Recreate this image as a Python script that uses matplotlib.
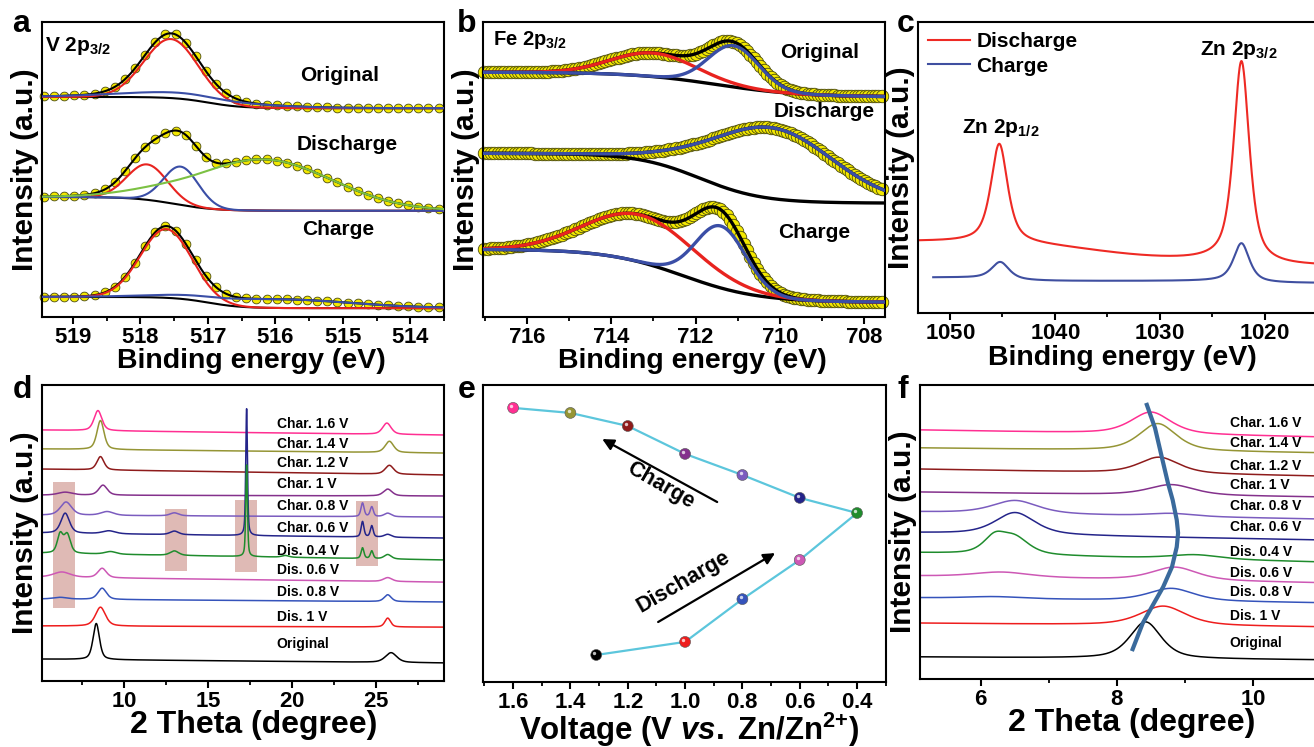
import numpy as np
import matplotlib.pyplot as plt
from matplotlib.ticker import MultipleLocator, FormatStrFormatter
from matplotlib.patches import Rectangle
from matplotlib.transforms import offset_copy

plt.rcParams['font.family'] = ['Liberation Sans', 'DejaVu Sans']
plt.rcParams['font.weight'] = 'bold'
plt.rcParams['axes.labelweight'] = 'bold'
plt.rcParams['mathtext.fontset'] = 'custom'
plt.rcParams['mathtext.rm'] = 'Liberation Sans:bold'
plt.rcParams['mathtext.it'] = 'Liberation Sans:bold:italic'
plt.rcParams['mathtext.bf'] = 'Liberation Sans:bold'
plt.rcParams['axes.linewidth'] = 1.5

# ---- a: V 2p3/2 fit components (centre eV, height a.u., sigma eV) ----
a_states = ['Original', 'Discharge', 'Charge']
a_bg_high = [74.6, 40.7, 6.8]
a_bg_low = [70.8, 36.0, 3.0]
a_bg_mid = [517.0, 517.5, 517.0]
a_bg_width = [0.5, 0.6, 0.5]
a_red = [(517.55, 20.0, 0.40), (517.90, 12.0, 0.30), (517.62, 23.3, 0.38)]
a_blue = [(517.30, 2.0, 1.00), (517.40, 13.0, 0.26), (516.00, 3.0, 1.10)]
a_green = [None, (516.20, 17.4, 1.03), None]
a_label_x = [515.64, 515.68, 515.60]
a_label_y = [82.0, 58.6, 29.8]

# ---- b: Fe 2p3/2 fit components ----
b_states = ['Original', 'Discharge', 'Charge']
b_bg_high = [83.0, 55.5, 23.0]
b_bg_low = [74.6, 38.6, 5.0]
b_bg_mid = [711.5, 711.9, 712.3]
b_bg_width = [2.0, 1.5, 1.8]
b_red = [(713.0, 8.0, 1.0), None, (713.3, 16.0, 1.3)]
b_blue = [(711.1, 14.0, 0.6), (710.2, 24.0, 1.45), (711.4, 21.0, 0.6)]
b_label_x = [708.12, 710.15, 710.05]
b_label_y = [89.8, 69.5, 28.8]

# ---- c: Zn 2p survey (centre eV, height, fwhm) ----
c_states = ['Discharge', 'Charge']
c_x_start = [1053.05, 1051.6]
c_base = [16.2, 10.3]
c_step_low = [(1022.0, 1.5, 1.0), (1022.0, 0.7, 1.0)]
c_step_high = [(1036.0, 7.0, 4.0), (1045.0, 1.2, 1.5)]
c_zn_half = [(1045.3, 34.0, 1.9), (1045.2, 5.9, 2.0)]
c_zn_three_half = [(1022.2, 69.3, 1.8), (1022.2, 13.3, 1.8)]

# ---- d / f: ex-situ XRD traces (centre deg, height, fwhm) ----
xrd_labels = ['Char. 1.6 V', 'Char. 1.4 V', 'Char. 1.2 V', 'Char. 1 V', 'Char. 0.8 V',
              'Char. 0.6 V', 'Dis. 0.4 V', 'Dis. 0.6 V', 'Dis. 0.8 V', 'Dis. 1 V', 'Original']
xrd_colors = ['#ff2f92', '#959535', '#8e1b1b', '#84318c', '#7b5cbf', '#24248a',
              '#1f8c2d', '#cd58b5', '#3553bb', '#ee1d1d', '#000000']

d_base_left = [84.8, 78.4, 71.6, 62.8, 56.0, 50.0, 43.2, 35.1, 27.7, 18.6, 7.4]
d_base_right = [83.1, 77.0, 69.6, 62.5, 55.4, 48.3, 40.9, 33.4, 26.7, 18.2, 6.1]
d_peaks = [
    [(8.45, 6.8, 0.55), (25.65, 3.8, 0.6)],
    [(8.6, 9.8, 0.5), (25.8, 3.8, 0.6)],
    [(8.6, 4.5, 0.5), (25.8, 3.0, 0.6)],
    [(6.5, 1.0, 1.0), (8.75, 3.4, 0.6), (25.7, 2.3, 0.6)],
    [(6.55, 4.5, 0.8), (9.0, 1.3, 0.9), (13.0, 1.0, 0.6), (24.2, 4.6, 0.22),
     (24.75, 3.3, 0.22), (25.7, 1.2, 0.5)],
    [(6.5, 6.8, 0.6), (9.1, 1.0, 0.9), (13.0, 1.2, 0.6), (17.3, 42.9, 0.12),
     (24.2, 5.2, 0.2), (24.75, 3.8, 0.2), (25.7, 1.0, 0.5)],
    [(6.2, 6.3, 0.4), (6.62, 6.3, 0.45), (9.2, 0.9, 0.8), (13.0, 1.5, 0.6),
     (17.3, 31.0, 0.12), (19.6, 0.6, 0.5), (24.2, 3.6, 0.2), (24.75, 2.6, 0.2),
     (25.7, 1.5, 0.5)],
    [(6.3, 1.8, 1.2), (8.7, 3.2, 0.6), (25.7, 1.3, 0.6)],
    [(6.2, 0.6, 1.0), (8.7, 3.8, 0.6), (25.7, 2.3, 0.5)],
    [(8.6, 6.4, 0.7), (25.7, 3.0, 0.4)],
    [(8.35, 12.2, 0.45), (25.9, 3.3, 0.8)],
]
d_label_y = [86.8, 80.1, 73.6, 66.6, 59.1, 51.7, 43.9, 37.5, 30.1, 21.6, 12.5]
d_box_x = [(5.78, 7.1), (12.44, 13.75), (16.6, 17.9), (23.8, 25.1)]
d_box_y = [(24.7, 67.2), (37.2, 58.1), (36.8, 61.1), (38.9, 60.8)]

f_base_left = [84.7, 78.6, 71.4, 63.6, 56.8, 49.7, 42.9, 35.0, 27.6, 19.0, 7.5]
f_base_right = [82.3, 76.9, 69.0, 61.9, 54.4, 47.3, 39.8, 32.7, 25.9, 17.7, 6.5]
f_peaks = [
    [(8.5, 7.5, 0.7)],
    [(8.6, 9.3, 0.65)],
    [(8.62, 5.5, 0.7)],
    [(8.8, 3.6, 0.8)],
    [(6.5, 4.5, 0.8), (8.8, 1.0, 0.8)],
    [(6.5, 7.5, 0.7)],
    [(6.2, 5.5, 0.4), (6.5, 5.5, 0.5), (9.15, 1.5, 0.9)],
    [(6.3, 1.8, 1.0), (8.85, 4.5, 0.8)],
    [(6.2, 0.7, 1.0), (8.8, 4.3, 0.8)],
    [(8.68, 6.6, 0.8)],
    [(8.42, 12.5, 0.55)],
]
f_label_y = [87.1, 80.3, 72.4, 66.0, 58.8, 51.7, 43.2, 36.1, 29.6, 21.4, 12.2]
f_guide_x = [8.22, 8.38, 8.53, 8.68, 8.81, 8.88, 8.90, 8.88, 8.82, 8.75, 8.66, 8.56, 8.43]
f_guide_y = [9.5, 19.0, 25.2, 31.3, 38.1, 44.9, 49.7, 54.1, 60.9, 66.7, 75.5, 85.4, 93.9]

# ---- e: sampling points along the charge/discharge curve ----
e_voltage = [1.31, 1.0, 0.8, 0.6, 0.4, 0.6, 0.8, 1.0, 1.2, 1.4, 1.6]
e_position = [9.1, 13.5, 27.9, 41.1, 56.9, 62.0, 69.7, 76.8, 86.2, 90.6, 92.3]
e_colors = xrd_colors[::-1]
e_charge_arrow = [(0.888, 60.6), (1.289, 81.8)]
e_discharge_arrow = [(1.094, 20.2), (0.686, 43.4)]

RED = '#e8231f'
BLUE = '#3a4ea6'
GREEN = '#7cc143'
YELLOW = '#f3e800'


def gauss(x, c, h, s):
    return h * np.exp(-(x - c) ** 2 / (2 * s ** 2))


def pvoigt(x, c, h, w, eta=0.5):
    u = (x - c) / w
    return h * (eta / (1 + 4 * u ** 2) + (1 - eta) * np.exp(-4 * np.log(2) * u ** 2))


def step(x, c, w):
    return 0.5 * (1 + np.tanh((x - c) / w))


def sig(x, c, w):
    return 1 / (1 + np.exp(-(x - c) / w))


def style(ax, xlim, major, minor, fmt='$%d$'):
    ax.set_xlim(*xlim)
    ax.set_ylim(0, 100)
    ax.set_yticks([])
    ax.xaxis.set_major_locator(MultipleLocator(major))
    ax.xaxis.set_minor_locator(MultipleLocator(minor))
    # mathtext rm is Liberation Sans bold, so this gives bold tick labels
    ax.xaxis.set_major_formatter(FormatStrFormatter(fmt))
    ax.tick_params(axis='x', which='major', direction='out', length=5, width=1.5,
                   labelsize=16, pad=2)
    ax.tick_params(axis='x', which='minor', direction='out', length=3, width=1.3)


def xps_panel(ax, xlim, hi, lo, mid, wid, comps, dot_step, ms, lw):
    x = np.linspace(xlim[0], xlim[1], 800)
    xd = np.arange(xlim[0] - 0.03, xlim[1], -dot_step)
    for i in range(len(hi)):
        bg = lo[i] + (hi[i] - lo[i]) * step(x, mid[i], wid[i])
        bgd = lo[i] + (hi[i] - lo[i]) * step(xd, mid[i], wid[i])
        env, envd = bg.copy(), bgd.copy()
        curves = []
        for comp, col in comps:
            p = comp[i]
            if p is None:
                continue
            env += gauss(x, *p)
            envd += gauss(xd, *p)
            curves.append((bg + gauss(x, *p), col))
        ax.plot(xd, envd, 'o', ms=ms, mfc=YELLOW, mec='#4a4a10', mew=0.6, zorder=2,
                clip_on=False)
        ax.plot(x, env, color='k', lw=lw, zorder=3)
        ax.plot(x, bg, color='k', lw=lw, zorder=3)
        for y, col in curves:
            ax.plot(x, y, color=col, lw=lw, zorder=4)


W, H = 1314, 747
fig = plt.figure(figsize=(W / 100, H / 100), dpi=100)


def box(l, t, r, b):
    return [l / W, 1 - b / H, (r - l) / W, (b - t) / H]


# ---------------- a ----------------
ax = fig.add_axes(box(42, 22, 444, 317))
a_xlim = (519.46, 513.5)
xps_panel(ax, a_xlim, a_bg_high, a_bg_low, a_bg_mid, a_bg_width,
          [(a_red, RED), (a_blue, BLUE), (a_green, GREEN)], 0.15, 6.3, 1.5)
style(ax, a_xlim, 1, 0.5)
for name, lx, ly in zip(a_states, a_label_x, a_label_y):
    ax.text(lx, ly, name, fontsize=15, va='center', ha='left')
ax.text(519.42, 92, r'V 2p$_{3/2}$', fontsize=15, va='center', ha='left')
ax.set_xlabel('Binding energy (eV)', fontsize=20.5)
ax.xaxis.set_label_coords(0.522, -0.105)
ax.set_ylabel('Intensity (a.u.)', fontsize=21.5)
ax.yaxis.set_label_coords(-0.008, 0.5)

# ---------------- b ----------------
ax = fig.add_axes(box(483, 22, 885, 317))
b_xlim = (717.05, 707.5)
xps_panel(ax, b_xlim, b_bg_high, b_bg_low, b_bg_mid, b_bg_width,
          [(b_red, RED), (b_blue, BLUE)], 0.08, 9.0, 2.4)
style(ax, b_xlim, 2, 1)
ax.text(b_label_x[0], b_label_y[0], b_states[0], fontsize=15, va='center', ha='right')
for name, lx, ly in zip(b_states[1:], b_label_x[1:], b_label_y[1:]):
    ax.text(lx, ly, name, fontsize=15, va='center', ha='left')
ax.text(716.81, 93.9, r'Fe 2p$_{3/2}$', fontsize=14.5, va='center', ha='left')
ax.set_xlabel('Binding energy (eV)', fontsize=20.5)
ax.xaxis.set_label_coords(0.52, -0.105)
ax.set_ylabel('Intensity (a.u.)', fontsize=21.5)
ax.yaxis.set_label_coords(-0.008, 0.5)

# ---------------- c ----------------
ax = fig.add_axes(box(918, 22, 1318, 313))
c_xlim = (1053.05, 1014.9)
for i, (name, col) in enumerate(zip(c_states, ['#ee2a24', '#3f4fa0'])):
    x = np.linspace(c_x_start[i], c_xlim[1], 1500)
    y = (c_base[i] + c_step_low[i][1] * sig(x, c_step_low[i][0], c_step_low[i][2])
         + c_step_high[i][1] * sig(x, c_step_high[i][0], c_step_high[i][2])
         + pvoigt(x, *c_zn_half[i], eta=0.7) + pvoigt(x, *c_zn_three_half[i], eta=0.7))
    ax.plot(x, y, color=col, lw=1.5, label=name)
style(ax, c_xlim, 10, 5)
ax.text(1048.86, 63.6, r'Zn 2p$_{1/2}$', fontsize=15, va='center', ha='left')
ax.text(1026.2, 90.4, r'Zn 2p$_{3/2}$', fontsize=15, va='center', ha='left')
ax.legend(loc='upper left', frameon=False, fontsize=15, handlelength=2.0,
          handletextpad=0.3, labelspacing=0.25, borderaxespad=0.3, borderpad=0.2)
ax.set_xlabel('Binding energy (eV)', fontsize=20.5)
ax.xaxis.set_label_coords(0.512, -0.11)
ax.set_ylabel('Intensity (a.u.)', fontsize=21.5)
ax.yaxis.set_label_coords(-0.008, 0.5)

# ---------------- d ----------------
ax = fig.add_axes(box(42, 385, 444, 681))
d_xlim = (5.12, 29.05)
x = np.linspace(d_xlim[0], d_xlim[1], 4000)
for (x0, x1), (y0, y1) in zip(d_box_x, d_box_y):
    ax.add_patch(Rectangle((x0, y0), x1 - x0, y1 - y0, facecolor='#dfbab5',
                           edgecolor='none', zorder=0))
for name, col, bl, br, peaks, ly in zip(xrd_labels, xrd_colors, d_base_left,
                                         d_base_right, d_peaks, d_label_y):
    y = bl + (br - bl) * (x - x[0]) / (x[-1] - x[0])
    for p in peaks:
        y = y + pvoigt(x, *p)
    ax.plot(x, y, color=col, lw=1.1, zorder=2)
    ax.text(19.1, ly, name, fontsize=10, va='center', ha='left')
style(ax, d_xlim, 5, 2.5)
ax.set_xlabel('2 Theta (degree)', fontsize=23)
ax.xaxis.set_label_coords(0.527, -0.098)
ax.set_ylabel('Intensity (a.u.)', fontsize=21.5)
ax.yaxis.set_label_coords(-0.008, 0.5)

# ---------------- e ----------------
ax = fig.add_axes(box(483, 385, 886, 682))
e_xlim = (1.705, 0.299)
ax.plot(e_voltage, e_position, color='#5cc6dc', lw=1.6, zorder=1)
ax.scatter(e_voltage, e_position, c=e_colors, s=62, edgecolors='#555555',
           linewidths=0.4, zorder=3)
shine = offset_copy(ax.transData, fig=fig, x=-1.3, y=1.3, units='points')
ax.scatter(e_voltage, e_position, c='white', s=6, alpha=0.75, linewidths=0,
           transform=shine, zorder=4)
ax.annotate('', xy=e_charge_arrow[1], xytext=e_charge_arrow[0],
            arrowprops=dict(arrowstyle='-|>', color='k', lw=1.6, mutation_scale=17,
                            shrinkA=0, shrinkB=0))
ax.annotate('', xy=e_discharge_arrow[1], xytext=e_discharge_arrow[0],
            arrowprops=dict(arrowstyle='-|>', color='k', lw=1.6, mutation_scale=17,
                            shrinkA=0, shrinkB=0))
ax.text(1.087, 66.3, 'Charge', rotation=-30, ha='center', va='center', fontsize=15.5)
ax.text(1.007, 33.7, 'Discharge', rotation=30, ha='center', va='center', fontsize=15.5)
style(ax, e_xlim, 0.2, 0.1, fmt='$%.1f$')
ax.set_xlabel(r'Voltage (V $\mathit{vs.}\;$Zn/Zn$^{2{+}}$)', fontsize=22.5)
ax.xaxis.set_label_coords(0.512, -0.098)

# ---------------- f ----------------
ax = fig.add_axes(box(920, 385, 1318, 679))
f_xlim = (5.10, 10.96)
x = np.linspace(f_xlim[0], f_xlim[1], 2000)
for name, col, bl, br, peaks, ly in zip(xrd_labels, xrd_colors, f_base_left,
                                         f_base_right, f_peaks, f_label_y):
    y = bl + (br - bl) * (x - x[0]) / (x[-1] - x[0])
    for p in peaks:
        y = y + pvoigt(x, *p, eta=0.6)
    ax.plot(x, y, color=col, lw=1.1, zorder=2)
    ax.text(9.66, ly, name, fontsize=10, va='center', ha='left')
ax.plot(f_guide_x, f_guide_y, color='#3a6a9c', lw=3.0, solid_capstyle='butt', zorder=3)
style(ax, f_xlim, 2, 1)
ax.set_xlabel('2 Theta (degree)', fontsize=23)
ax.xaxis.set_label_coords(0.533, -0.098)
ax.set_ylabel('Intensity (a.u.)', fontsize=21.5)
ax.yaxis.set_label_coords(-0.008, 0.5)

# panel letters
for letter, px, py in [('a', 12, 32), ('b', 457, 32), ('c', 897, 32),
                       ('d', 13, 398), ('e', 458, 398), ('f', 898, 398)]:
    fig.text(px / W, 1 - py / H, letter, fontsize=23, fontweight='bold', va='baseline')

fig.savefig('out.png', dpi=100)
